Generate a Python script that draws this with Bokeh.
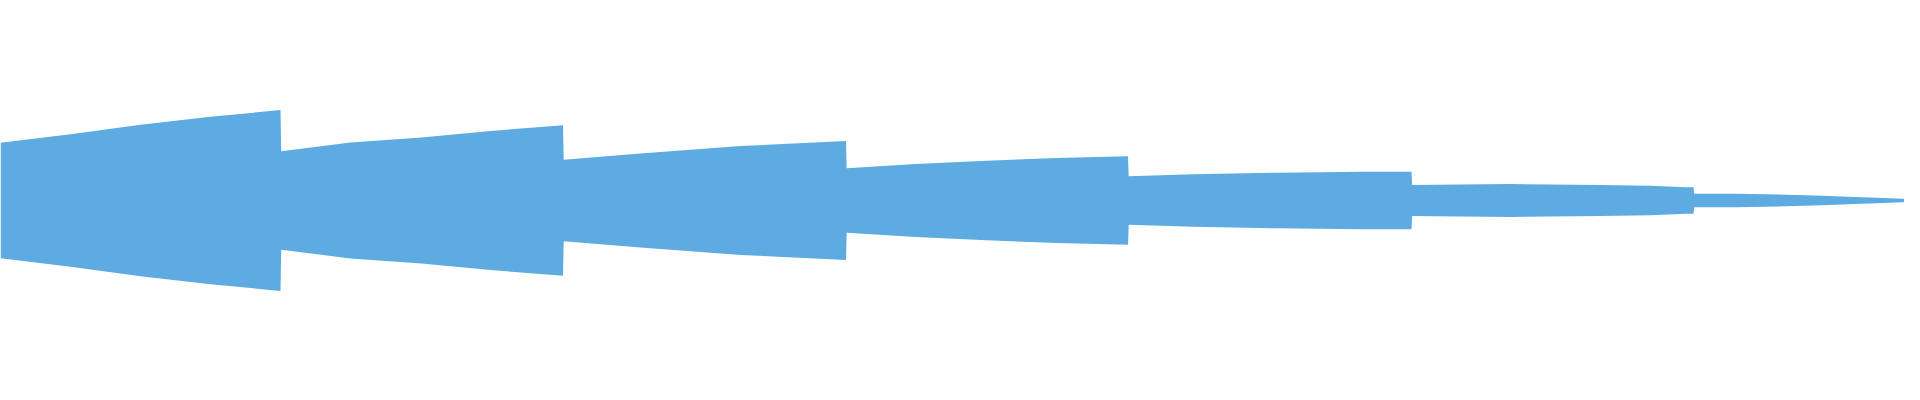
from bokeh.plotting import figure
from bokeh.models import Range1d
from bokeh.embed import file_html
from bokeh.resources import INLINE

# Envelope of the waveform: time position (px-scale) and peak amplitude
time = [0, 70, 140, 210, 280,
        280.7, 350, 421, 490, 562.5,
        563.2, 640, 740, 845.5,
        846.2, 915, 986, 1056, 1127.5,
        1128.2, 1193, 1277, 1360, 1411,
        1411.7, 1510, 1600, 1650, 1685, 1693,
        1693.7, 1735, 1786, 1822, 1854, 1877, 1901, 1920]
amplitude = [57.7, 66.2, 75.7, 83.7, 90.5,
             49.2, 58.0, 63.0, 69.5, 75.3,
             40.8, 47.0, 54.5, 59.5,
             32.3, 36.6, 39.8, 42.6, 44.3,
             24.3, 26.3, 27.8, 28.7, 28.8,
             15.5, 16.5, 15.6, 14.7, 13.3, 13.3,
             6.8, 6.8, 5.8, 4.8, 3.5, 2.8, 1.8, 0.5]

upper = [a for a in amplitude]
lower = [-a for a in amplitude]

p = figure(width=1904, height=384, output_backend="svg", toolbar_location=None,
           x_range=Range1d(0, 1904), y_range=Range1d(-184, 200),
           min_border=0, min_border_left=0, min_border_right=0,
           min_border_top=0, min_border_bottom=0)
p.xaxis.visible = False
p.yaxis.visible = False
p.grid.visible = False
p.outline_line_color = None
p.background_fill_color = "white"
p.border_fill_color = "white"

p.varea(x=time, y1=lower, y2=upper, fill_color="#5dabe1", fill_alpha=1.0)

open("out.html", "w").write(file_html(p, INLINE))
